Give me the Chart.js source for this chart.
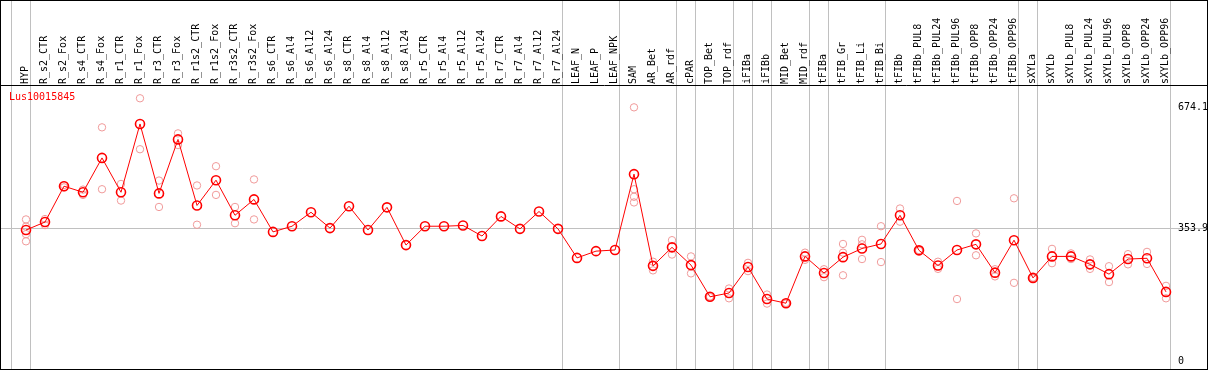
<!DOCTYPE html>
<html>
<head>
<meta charset="utf-8">
<script src="https://cdn.jsdelivr.net/npm/chart.js@4"></script>
<style>
    html, body { margin: 0; padding: 0; background: #fff; }
    #wrap { width: 1209px; height: 370px; }
</style>
</head>
<body>
<div id="wrap"><canvas id="chart" width="1209" height="370"></canvas></div>
<script>
// 遺伝子名
const geneName = 'Lus10015845';

// サンプル名
const categories = [
    'HYP', 'R_s2_CTR', 'R_s2_Fox', 'R_s4_CTR', 'R_s4_Fox', 'R_r1_CTR', 'R_r1_Fox',
    'R_r3_CTR', 'R_r3_Fox', 'R_r1s2_CTR', 'R_r1s2_Fox', 'R_r3s2_CTR', 'R_r3s2_Fox',
    'R_s6_CTR', 'R_s6_Al4', 'R_s6_Al12', 'R_s6_Al24', 'R_s8_CTR', 'R_s8_Al4', 'R_s8_Al12',
    'R_s8_Al24', 'R_r5_CTR', 'R_r5_Al4', 'R_r5_Al12', 'R_r5_Al24', 'R_r7_CTR', 'R_r7_Al4',
    'R_r7_Al12', 'R_r7_Al24', 'LEAF_N', 'LEAF_P', 'LEAF_NPK', 'SAM', 'AR_Bet', 'AR_rdf',
    'cPAR', 'TOP_Bet', 'TOP_rdf', 'iFIBa', 'iFIBb', 'MID_Bet', 'MID_rdf', 'tFIBa',
    'tFIB_Gr', 'tFIB_Li', 'tFIB_Bi', 'tFIBb', 'tFIBb_PUL8', 'tFIBb_PUL24', 'tFIBb_PUL96',
    'tFIBb_OPP8', 'tFIBb_OPP24', 'tFIBb_OPP96', 'sXYLa', 'sXYLb', 'sXYLb_PUL8',
    'sXYLb_PUL24', 'sXYLb_PUL96', 'sXYLb_OPP8', 'sXYLb_OPP24', 'sXYLb_OPP96'
];

// 平均値
const means = [
    349, 370, 465, 449, 540, 449, 630, 446, 589, 414, 481, 388, 430,
    344, 359, 396, 354, 412, 349, 409, 309, 359, 359, 361, 333, 385, 352, 398, 352,
    275, 293, 296, 497, 254, 303, 256, 172, 182, 251, 166, 155, 279,
    235, 277, 300, 312, 388, 295, 255, 296, 311, 236, 322,
    222, 279, 279, 258, 232, 272, 274, 185
];

// 反復ごとの値
const replicates = [
    [377, 358, 338, 319], [378, 362], [468, 462], [456, 442], [621, 457], [471, 427],
    [698, 563], [480, 410], [605, 574], [467, 363], [518, 442], [410, 367], [483, 377],
    [], [], [], [], [], [], [], [], [], [], [], [], [], [], [], [],
    [], [], [],
    [674, 457, 437, 422], [265, 242], [322, 284], [279, 234], [173, 171], [194, 168],
    [262, 240], [178, 154], [156, 154], [289, 270], [245, 224], [312, 289, 229],
    [323, 311, 272], [359, 264], [406, 371], [296, 294], [265, 246], [426, 166],
    [340, 282], [245, 226], [433, 209], [223, 221], [299, 261], [287, 272],
    [271, 246], [253, 211], [285, 258], [291, 259], [201, 168]
];

// グループの区切り (カテゴリ番号)
const groupBreaks = [0, 1, 29, 32, 35, 36, 38, 39, 40, 42, 43, 46, 53, 54, 61];

// Y軸の目盛り
const yTicks = [0, 353.9, 674.1];
const yRefLine = 353.9;

const FONT = { family: 'DejaVu Sans Mono', size: 10 };
const BREAK_SHIFT = 15 / 19;   // 区切り線は点の左15px
const LABEL_SHIFT = 11 / 19;   // 回転ラベルのずれ補正

/**
 * 枠線と遺伝子名を描く
 */
const framePlugin = {
    id: 'frame',
    afterDraw(chart) {
        const ctx = chart.ctx;
        ctx.save();
        ctx.strokeStyle = '#000';
        ctx.lineWidth = 1;
        ctx.strokeRect(0.5, 0.5, 1207, 369);
        ctx.fillStyle = '#ff0000';
        ctx.font = '10px "DejaVu Sans Mono"';
        ctx.textBaseline = 'middle';
        ctx.fillText(geneName, 9, chart.chartArea.top + 12);
        ctx.restore();
    }
};

const meanPoints = means.map((v, i) => ({ x: i, y: v }));
const repPoints = replicates.flatMap((arr, i) => arr.map(v => ({ x: i, y: v })));

function labelIndex(v) {
    const i = Math.round(v - LABEL_SHIFT);
    return Math.abs(v - LABEL_SHIFT - i) < 1e-6 ? i : -1;
}

new Chart(document.getElementById('chart'), {
    type: 'line',
    data: {
        datasets: [
            {
                type: 'line',
                data: meanPoints,
                borderColor: '#ff0000',
                borderWidth: 1,
                tension: 0,
                pointRadius: 4.5,
                pointBorderWidth: 1.6,
                pointBorderColor: '#ff0000',
                pointBackgroundColor: 'rgba(0,0,0,0)',
                order: 0
            },
            {
                type: 'scatter',
                data: repPoints,
                showLine: false,
                pointRadius: 3.7,
                pointBorderWidth: 1,
                pointBorderColor: '#f09a9a',
                pointBackgroundColor: 'rgba(0,0,0,0)',
                order: 1
            }
        ]
    },
    options: {
        responsive: false,
        animation: false,
        devicePixelRatio: 1,
        layout: { autoPadding: false, padding: { left: 1, right: 2, top: 0, bottom: 1 } },
        plugins: {
            legend: { display: false },
            tooltip: { enabled: false }
        },
        scales: {
            x: {
                type: 'linear',
                position: 'top',
                bounds: 'data',
                min: -25 / 19,
                max: 1181 / 19,
                afterBuildTicks: scale => {
                    const ticks = groupBreaks.map(b => ({ value: b - BREAK_SHIFT, isBreak: true }))
                        .concat(categories.map((c, i) => ({ value: i + LABEL_SHIFT })));
                    ticks.sort((a, b) => a.value - b.value);
                    scale.ticks = ticks;
                },
                afterFit: scale => {
                    scale.height = 85;
                    scale.paddingLeft = 0;
                    scale.paddingRight = 0;
                },
                ticks: {
                    autoSkip: false,
                    minRotation: 90,
                    maxRotation: 90,
                    padding: -84,
                    color: '#000',
                    font: FONT,
                    callback: v => {
                        const i = labelIndex(v);
                        return i >= 0 ? categories[i] : '';
                    }
                },
                grid: {
                    drawTicks: true,
                    tickLength: 85,
                    lineWidth: 1,
                    color: ctx => (ctx.tick && ctx.tick.isBreak) ? '#c0c0c0' : 'rgba(0,0,0,0)'
                },
                border: { display: true, color: '#000', width: 1 }
            },
            y: {
                type: 'linear',
                position: 'right',
                bounds: 'data',
                min: -19.34,
                max: 733.2,
                afterBuildTicks: scale => { scale.ticks = yTicks.map(v => ({ value: v })); },
                afterFit: scale => {
                    scale.width = 0;
                    scale.paddingTop = 0;
                    scale.paddingBottom = 0;
                },
                ticks: {
                    mirror: true,
                    crossAlign: 'far',
                    padding: 1,
                    color: '#000',
                    font: FONT,
                    callback: v => v === 0 ? '0' : v.toFixed(1)
                },
                grid: {
                    drawTicks: false,
                    lineWidth: 1,
                    color: ctx => (ctx.tick && ctx.tick.value === yRefLine) ? '#c0c0c0' : 'rgba(0,0,0,0)'
                },
                border: { display: false }
            }
        }
    },
    plugins: [framePlugin]
});
</script>
</body>
</html>
